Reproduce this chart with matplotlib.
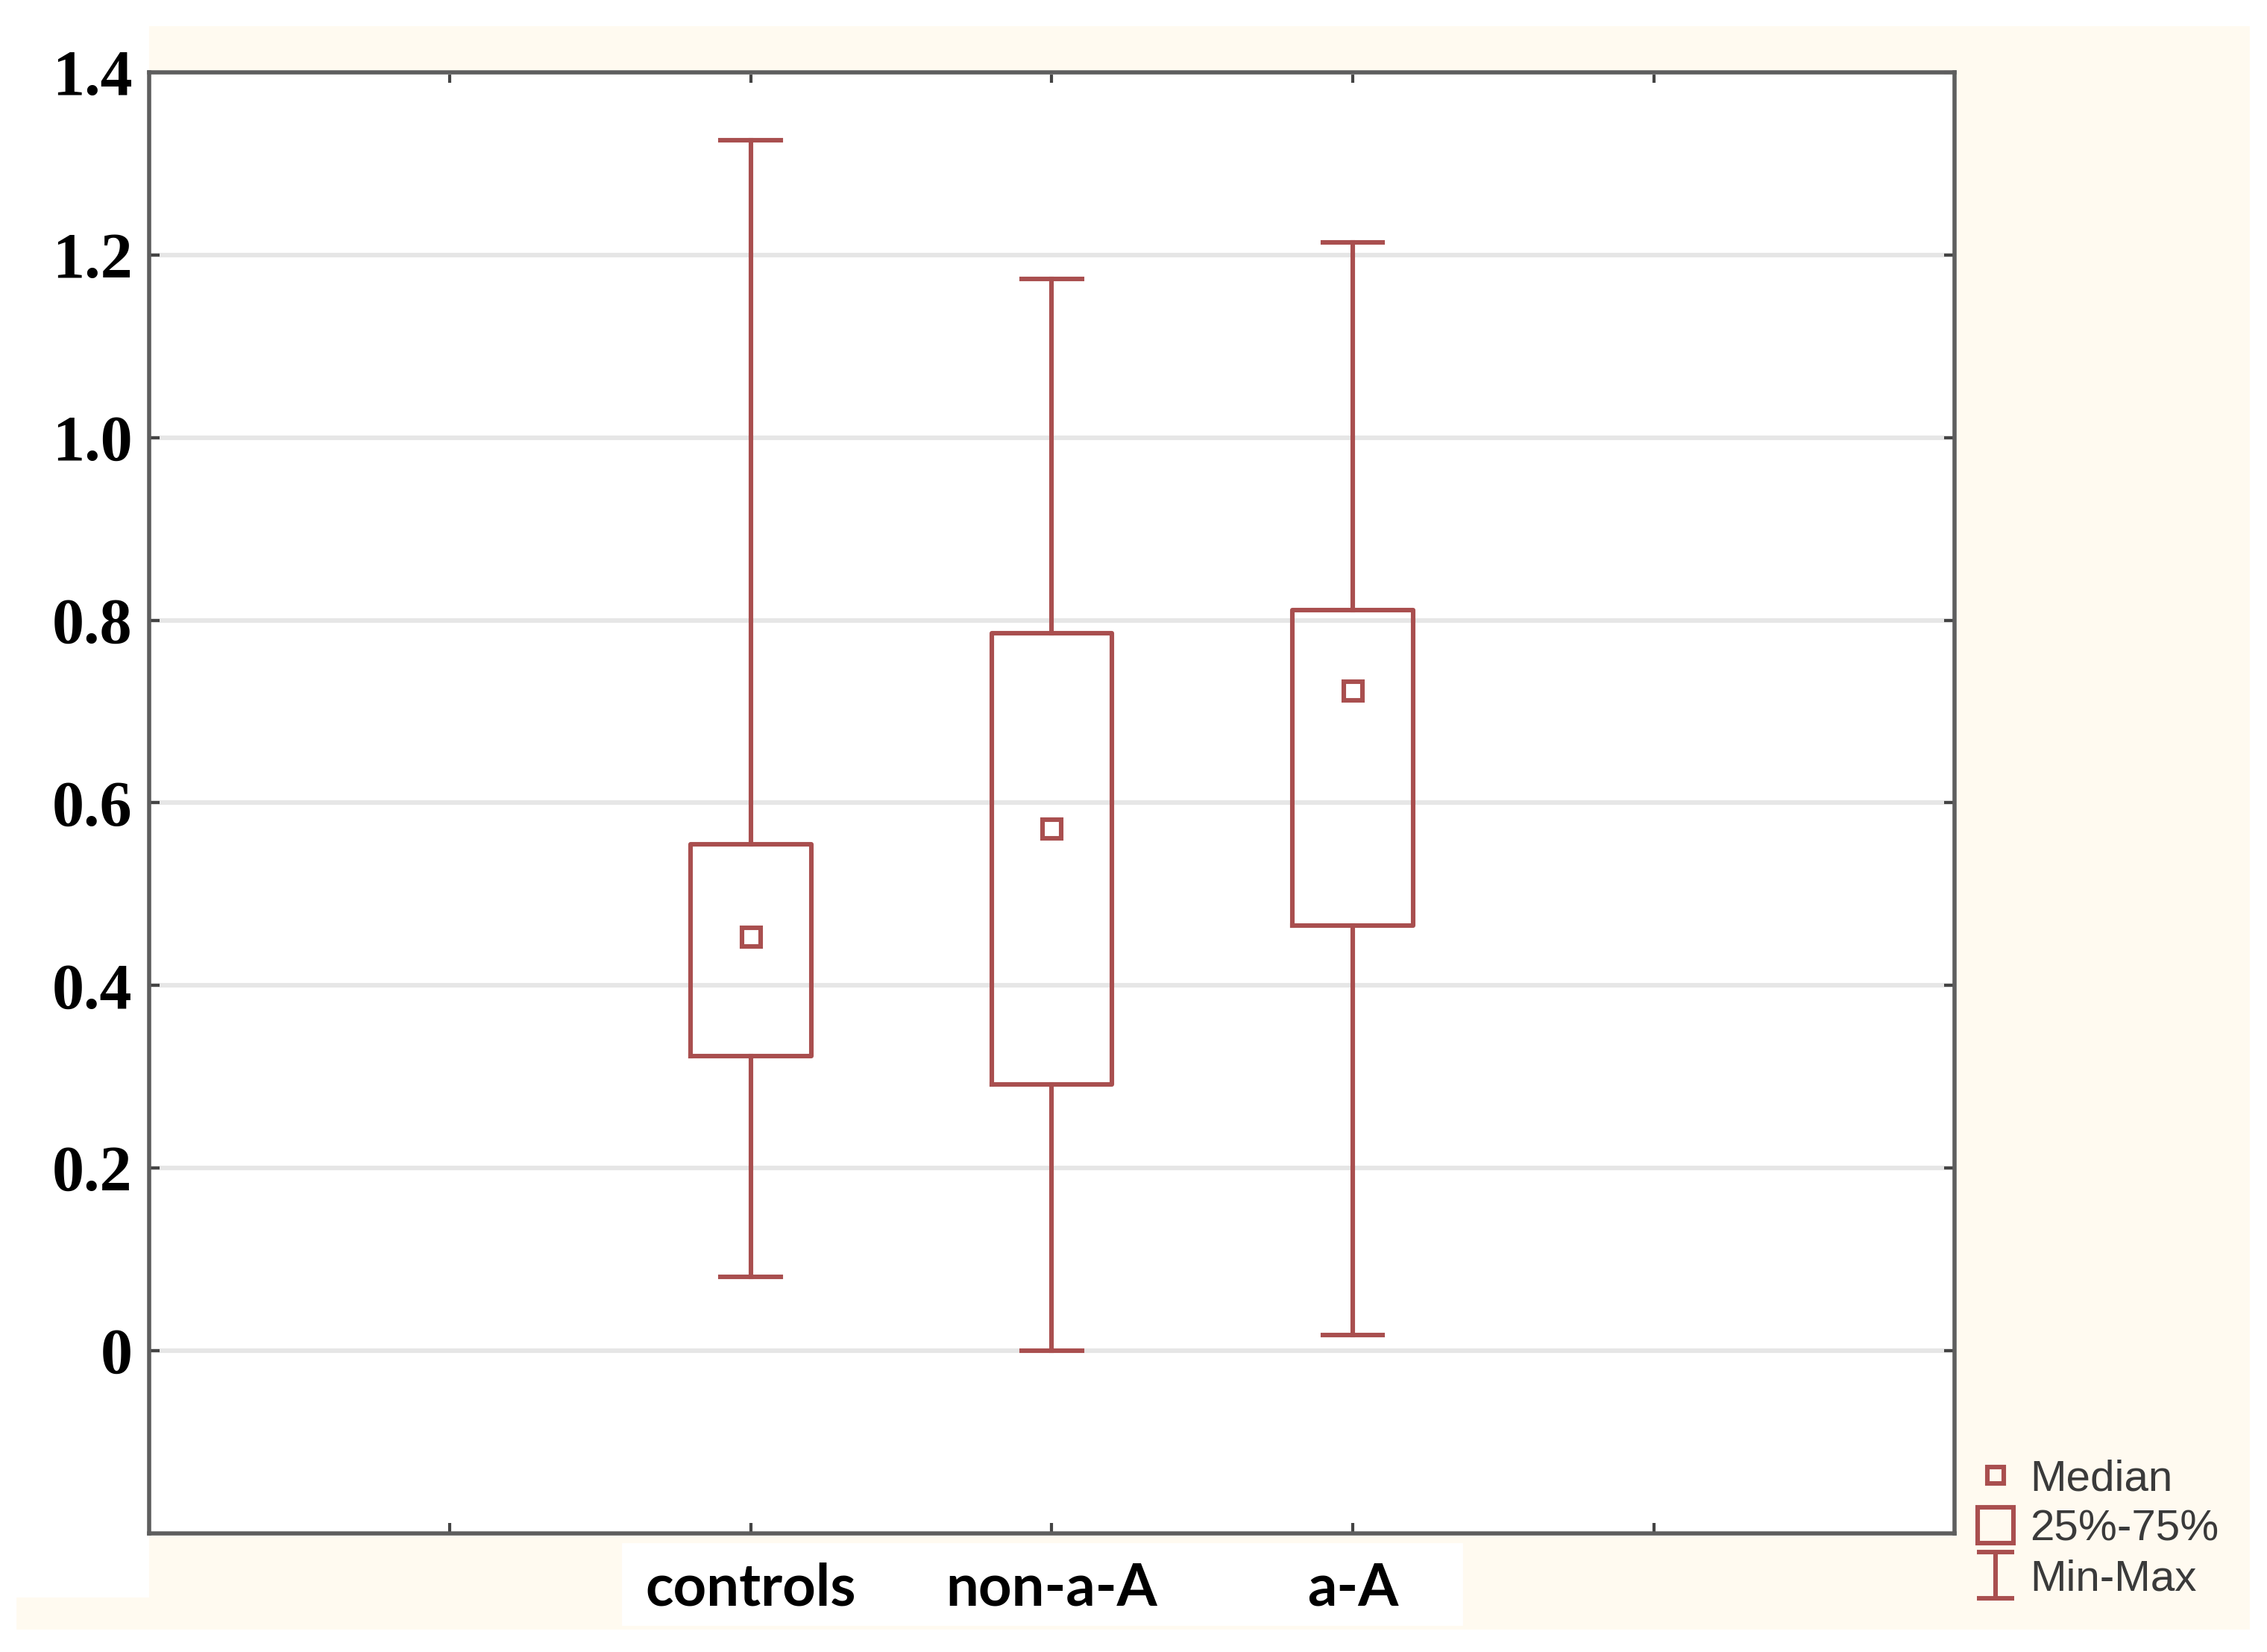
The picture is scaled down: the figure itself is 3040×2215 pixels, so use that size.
import matplotlib
matplotlib.use("Agg")
import matplotlib.pyplot as plt
from matplotlib.lines import Line2D
from matplotlib.patches import Rectangle
from matplotlib.path import Path

# data
groups = ["controls", "non-a-A", "a-A"]
mins = [0.081, 0.0, 0.017]
q1s = [0.323, 0.292, 0.466]
medians = [0.453, 0.572, 0.723]
q3s = [0.555, 0.786, 0.811]
maxs = [1.326, 1.174, 1.214]

y_ticks = [0, 0.2, 0.4, 0.6, 0.8, 1.0, 1.2, 1.4]
y_labels = ["0", "0.2", "0.4", "0.6", "0.8", "1.0", "1.2", "1.4"]

BOX = "#a94f4f"
W, H = 3040, 2215

fig = plt.figure(figsize=(15.2, 11.075), dpi=200, facecolor="white")

def rect(x0, y0, x1, y1, color):
    # pixel box (top-left origin) -> figure fraction
    fig.patches.append(Rectangle((x0 / W, 1 - y1 / H), (x1 - x0) / W, (y1 - y0) / H,
                                 transform=fig.transFigure, color=color, zorder=-10))

# cream backdrop with the white patches of the original image
rect(23, 36, 3015, 2183, "#fffaf0")
rect(0, 0, 198, 2140, "white")
rect(835, 2070, 1960, 2178, "white")

ax = fig.add_axes([0.0657, 0.0718, 0.7965, 0.8844])
ax.set_facecolor("white")

pos = [1, 2, 3]
stats = []
for i in range(len(groups)):
    stats.append({"label": groups[i], "whislo": mins[i], "q1": q1s[i], "med": medians[i],
                  "q3": q3s[i], "whishi": maxs[i], "fliers": []})

lw = 2.2
ax.bxp(stats, positions=pos, widths=0.4, capwidths=0.2, showfliers=False, patch_artist=False,
       boxprops=dict(color=BOX, lw=lw), whiskerprops=dict(color=BOX, lw=lw),
       capprops=dict(color=BOX, lw=lw), medianprops=dict(visible=False), zorder=3)
ax.plot(pos, medians, ls="none", marker="s", ms=9, mfc="white", mec=BOX, mew=lw, zorder=4)

ax.set_xlim(-1, 5)
ax.set_ylim(-0.2, 1.4)
ax.set_yticks(y_ticks)
ax.set_yticklabels(y_labels, fontfamily="Liberation Serif", fontweight="bold", fontsize=31)
ax.set_xticks([0, 1, 2, 3, 4])
ax.set_xticklabels([""] + groups + [""], fontfamily="Lato", fontweight="bold", fontsize=28)

ax.grid(axis="y", color="#e6e6e6", lw=2.2, zorder=0)
ax.set_axisbelow(True)
ax.tick_params(axis="both", direction="in", length=5, width=1.5, color="#444444",
               top=True, right=True)
ax.tick_params(axis="y", pad=8)
ax.tick_params(axis="x", pad=14)
for s in ax.spines.values():
    s.set_color("#5e5e5e")
    s.set_linewidth(2)

# legend
ibeam = Path([(-0.45, 0.55), (0.45, 0.55), (0, 0.55), (0, -0.55), (-0.45, -0.55), (0.45, -0.55)],
             [Path.MOVETO, Path.LINETO, Path.MOVETO, Path.LINETO, Path.MOVETO, Path.LINETO])
handles = [
    Line2D([], [], ls="none", marker="s", ms=8, mfc="none", mec=BOX, mew=lw),
    Line2D([], [], ls="none", marker="s", ms=17, mfc="none", mec=BOX, mew=lw),
    Line2D([], [], ls="none", marker=ibeam, ms=22, mfc="none", mec=BOX, mew=lw),
]
leg = ax.legend(handles, ["Median", "25%-75%", "Min-Max"], loc="center left",
                bbox_to_anchor=(0.861, 0.0744), bbox_transform=fig.transFigure,
                frameon=False, handlelength=1.0, handletextpad=0.3, labelspacing=0.22,
                borderpad=0, prop={"family": "Liberation Sans", "size": 21})
for t in leg.get_texts():
    t.set_color("#3a3a3a")

fig.savefig("out.png", dpi=200, facecolor=fig.get_facecolor())
